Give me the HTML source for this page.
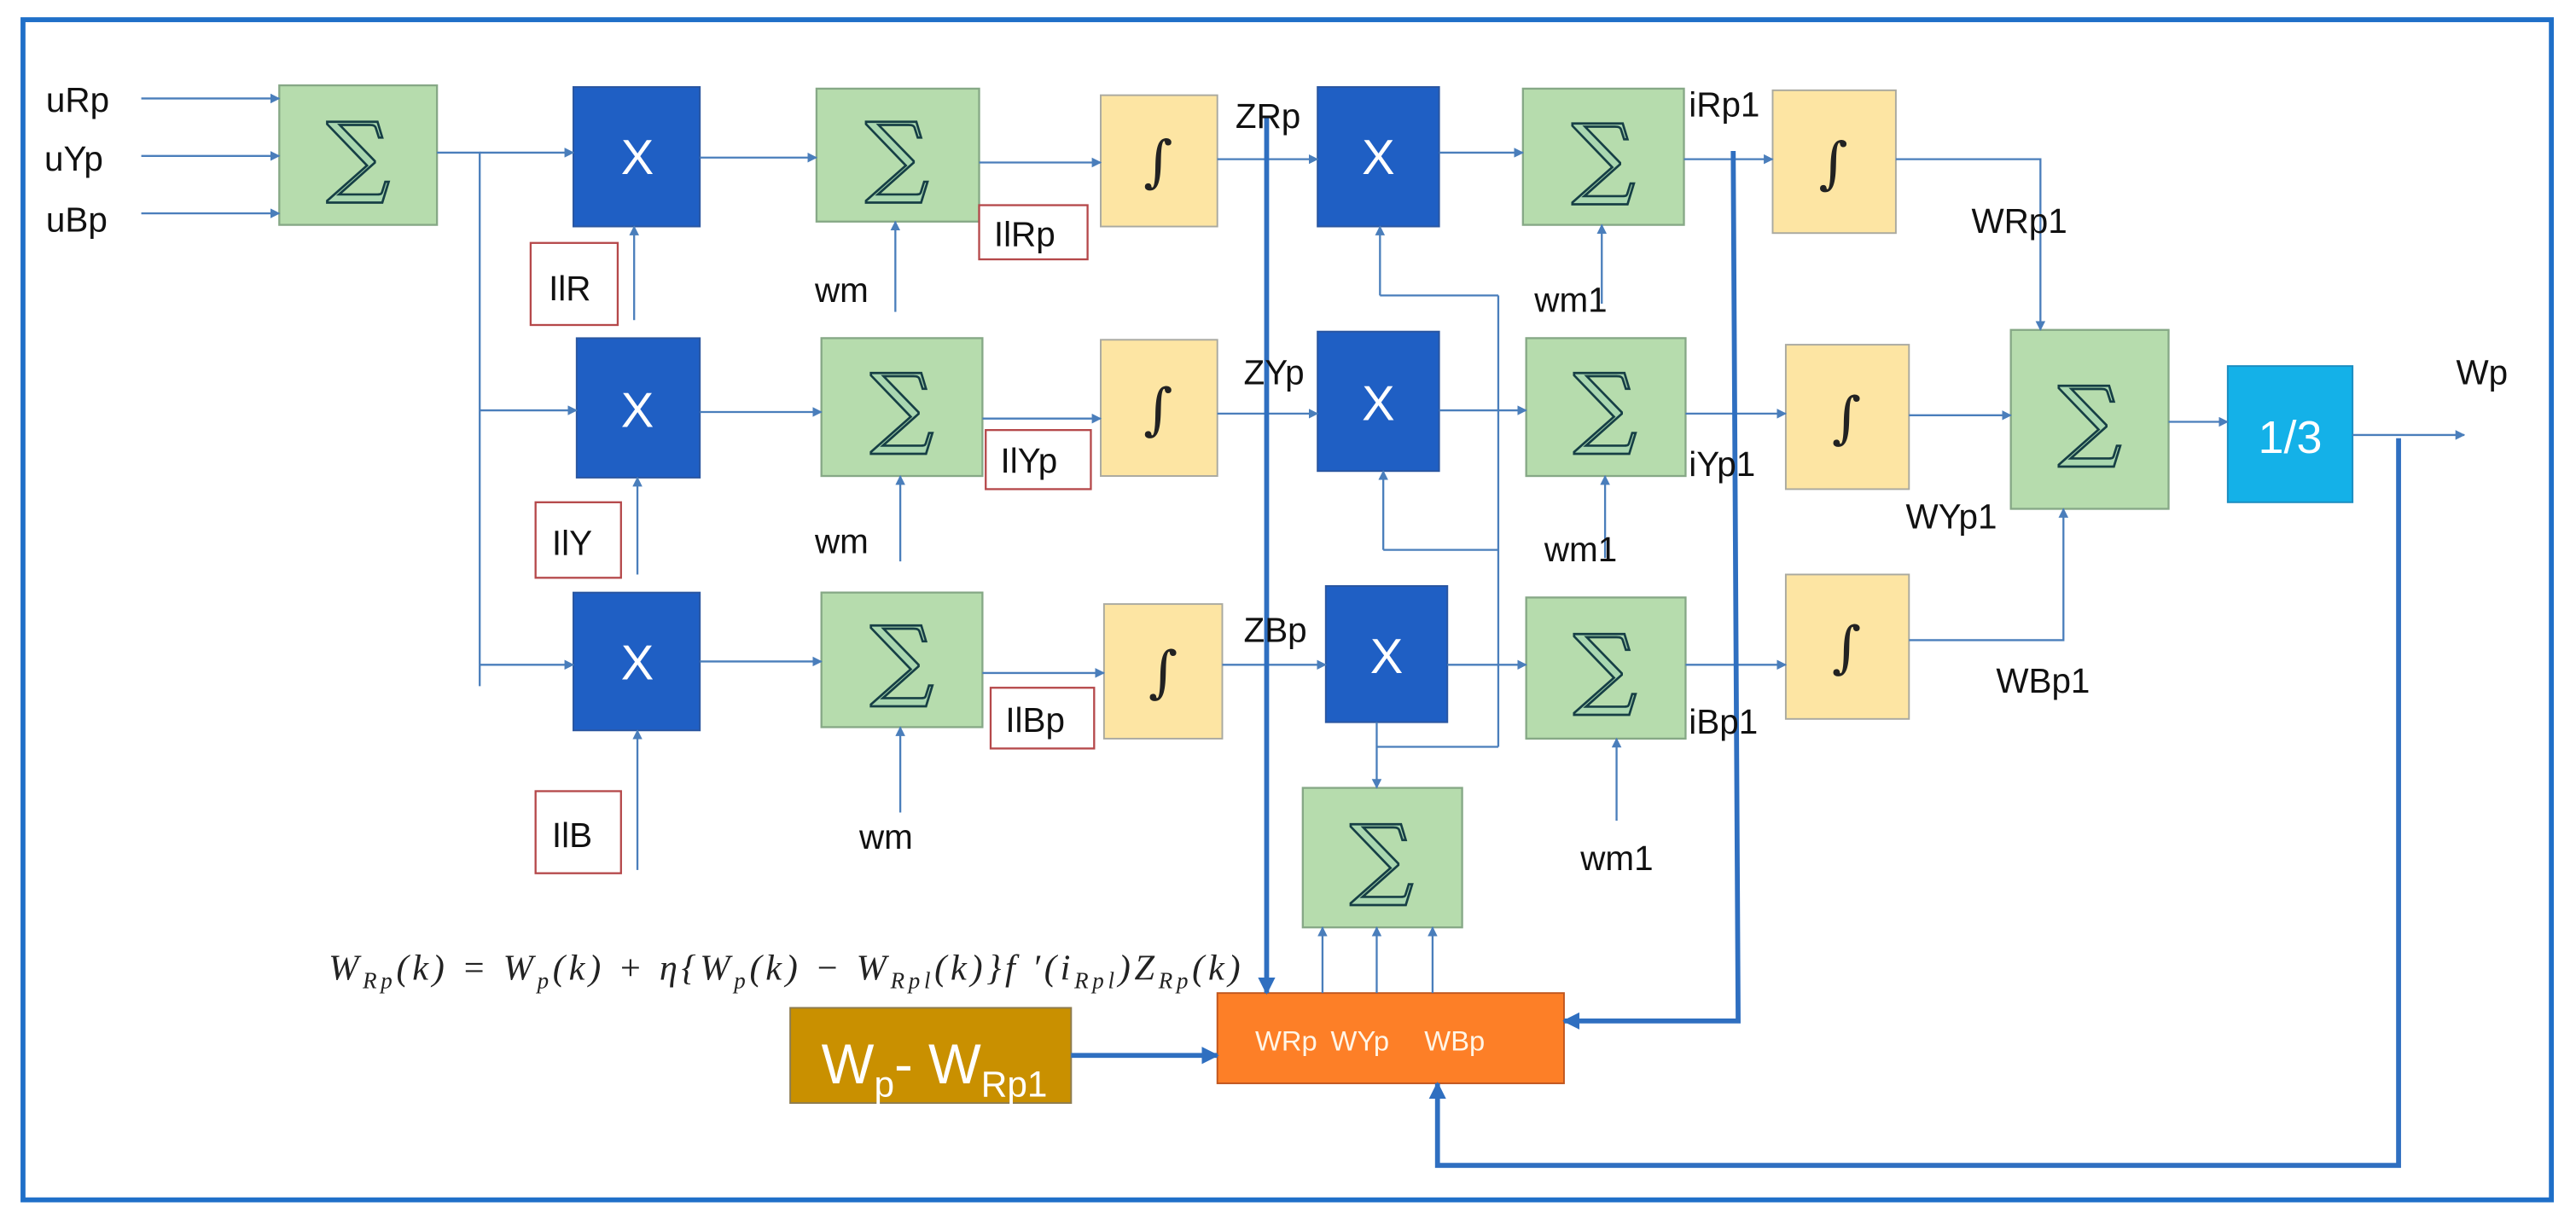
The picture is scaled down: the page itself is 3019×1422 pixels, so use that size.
<!DOCTYPE html>
<html><head><meta charset="utf-8"><style>html,body{margin:0;padding:0;background:#fff}svg{display:block}</style></head>
<body>
<svg width="3019" height="1422" viewBox="0 0 1568 739" preserveAspectRatio="none" xmlns="http://www.w3.org/2000/svg" font-family="Liberation Sans, sans-serif">
<defs>
<marker id="a" viewBox="0 0 10 10" refX="9" refY="5" markerWidth="5" markerHeight="5" orient="auto"><path d="M0,0L10,5L0,10z" fill="#4a7ebb"/></marker>
<marker id="b" viewBox="0 0 10 10" refX="9" refY="5" markerWidth="3.5" markerHeight="3.5" orient="auto"><path d="M0,0L10,5L0,10z" fill="#2f6fc0"/></marker>
</defs>
<rect x="14" y="12" width="1539" height="719" fill="#fff" stroke="#1f6fc8" stroke-width="3"/>
<g fill="#b6dcad" stroke="#86a886" stroke-width="1.2">
<rect x="170" y="52" width="96" height="85"/>
<rect x="497" y="54" width="99" height="81"/>
<rect x="500" y="206" width="98" height="84"/>
<rect x="500" y="361" width="98" height="82"/>
<rect x="927" y="54" width="98" height="83"/>
<rect x="929" y="206" width="97" height="84"/>
<rect x="929" y="364" width="97" height="86"/>
<rect x="1224" y="201" width="96" height="109"/>
<rect x="793" y="480" width="97" height="85"/>
</g>
<g fill="#1f5fc4" stroke="#2a56a0">
<rect x="349" y="53" width="77" height="85"/>
<rect x="351" y="206" width="75" height="85"/>
<rect x="349" y="361" width="77" height="84"/>
<rect x="802" y="53" width="74" height="85"/>
<rect x="802" y="202" width="74" height="85"/>
<rect x="807" y="357" width="74" height="83"/>
</g>
<g fill="#fde5a3" stroke="#a9a9a0">
<rect x="670" y="58" width="71" height="80"/>
<rect x="670" y="207" width="71" height="83"/>
<rect x="672" y="368" width="72" height="82"/>
<rect x="1079" y="55" width="75" height="87"/>
<rect x="1087" y="210" width="75" height="88"/>
<rect x="1087" y="350" width="75" height="88"/>
</g>
<g fill="#fff" stroke="#b5484a" stroke-width="1.2">
<rect x="596" y="125" width="66" height="33"/>
<rect x="600" y="262" width="64" height="36"/>
<rect x="603" y="419" width="63" height="37"/>
<rect x="323" y="148" width="53" height="50"/>
<rect x="326" y="306" width="52" height="46"/>
<rect x="326" y="482" width="52" height="50"/>
</g>
<rect x="1356" y="223" width="76" height="83" fill="#14b1e8" stroke="#1b8cc0"/>
<rect x="741" y="605" width="211" height="55" fill="#fd7f27" stroke="#c0561e"/>
<rect x="481" y="614" width="171" height="58" fill="#c99000" stroke="#8d7c50"/>
<!-- thin connectors -->
<g stroke="#4a7ebb" stroke-width="1.2" fill="none">
<path d="M266 93H292V418"/>
<path d="M912 180V455M912 180H840M912 335H842M912 455H838"/>
</g>
<g stroke="#4a7ebb" stroke-width="1.2" fill="none" marker-end="url(#a)">
<path d="M86 60H170"/><path d="M86 95H170"/><path d="M86 130H170"/>
<path d="M292 93H349"/><path d="M292 250H351"/><path d="M292 405H349"/>
<path d="M386 195V138"/><path d="M388 350V291"/><path d="M388 530V445"/>
<path d="M426 96H497"/><path d="M426 251H500"/><path d="M426 403H500"/>
<path d="M545 190V135"/><path d="M548 342V290"/><path d="M548 495V443"/>
<path d="M596 99H670"/><path d="M598 255H670"/><path d="M598 410H672"/>
<path d="M741 97H802"/><path d="M741 252H802"/><path d="M744 405H807"/>
<path d="M840 180V138"/><path d="M842 335V287"/>
<path d="M838 440V480"/>
<path d="M876 93H927"/><path d="M876 250H929"/><path d="M881 405H929"/>
<path d="M975 185V137"/><path d="M977 340V290"/><path d="M984 500V450"/>
<path d="M1025 97H1079"/><path d="M1026 252H1087"/><path d="M1026 405H1087"/>
<path d="M1154 97H1242V201"/><path d="M1162 253H1224"/><path d="M1162 390H1256V310"/>
<path d="M1320 257H1356"/>
<path d="M1432 265H1500"/>
<path d="M805 605V565"/><path d="M838 605V565"/><path d="M872 605V565"/>
</g>
<!-- thick connectors -->
<g stroke="#2f6fc0" stroke-width="3" fill="none" marker-end="url(#b)">
<path d="M771 72V605"/>
<path d="M1055 92L1058 622H952"/>
<path d="M1460 267V710H875V660"/>
<path d="M652 643H741"/>
</g>
<!-- sigma glyphs -->
<g font-family="DejaVu Serif, serif" font-size="54" fill="#a9d7b0" stroke="#163f45" stroke-width="1.4" text-anchor="middle">
<text x="218" y="113">∑</text>
<text x="546" y="113">∑</text>
<text x="549" y="266">∑</text>
<text x="549" y="420">∑</text>
<text x="976" y="114">∑</text>
<text x="977" y="266">∑</text>
<text x="977" y="425">∑</text>
<text x="1272" y="274">∑</text>
<text x="841" y="541">∑</text>
</g>
<g font-size="30" fill="#fff" text-anchor="middle">
<text x="388" y="106">X</text><text x="388" y="260">X</text><text x="388" y="414">X</text>
<text x="839" y="106">X</text><text x="839" y="256">X</text><text x="844" y="410">X</text>
<text x="1394" y="276" font-size="28">1/3</text>
</g>
<g font-family="DejaVu Serif, serif" font-size="34" fill="#222" text-anchor="middle">
<text x="705" y="110">∫</text><text x="705" y="261">∫</text><text x="708" y="421">∫</text>
<text x="1116" y="111">∫</text><text x="1124" y="266">∫</text><text x="1124" y="406">∫</text>
</g>
<g font-size="21" fill="#111">
<text x="28" y="68">uRp</text><text x="27" y="104">uYp</text><text x="28" y="141">uBp</text>
<text x="334" y="183">IlR</text><text x="336" y="338">IlY</text><text x="336" y="516">IlB</text>
<text x="605" y="150">IlRp</text><text x="609" y="288">IlYp</text><text x="612" y="446">IlBp</text>
<text x="496" y="184">wm</text><text x="496" y="337">wm</text><text x="523" y="517">wm</text>
<text x="752" y="78">ZRp</text><text x="757" y="234">ZYp</text><text x="757" y="391">ZBp</text>
<text x="1028" y="71">iRp1</text><text x="1028" y="290">iYp1</text><text x="1028" y="447">iBp1</text>
<text x="934" y="190">wm1</text><text x="940" y="342">wm1</text><text x="962" y="530">wm1</text>
<text x="1200" y="142">WRp1</text><text x="1160" y="322">WYp1</text><text x="1215" y="422">WBp1</text>
<text x="1495" y="234">Wp</text>
</g>
<g font-size="17" fill="#fff5e6"><text x="764" y="640">WRp</text><text x="810" y="640">WYp</text><text x="867" y="640">WBp</text></g>
<text x="500" y="660" font-size="34" fill="#fff">W<tspan font-size="22" dy="8">p</tspan><tspan dy="-8">- W</tspan><tspan font-size="22" dy="8">Rp1</tspan></text>
<text x="200" y="597" font-family="Liberation Serif, serif" font-style="italic" font-size="22" fill="#222" textLength="555" lengthAdjust="spacing">W<tspan font-size="14" dy="5">Rp</tspan><tspan dy="-5">(k)  =  W</tspan><tspan font-size="14" dy="5">p</tspan><tspan dy="-5">(k) + η{W</tspan><tspan font-size="14" dy="5">p</tspan><tspan dy="-5">(k) − W</tspan><tspan font-size="14" dy="5">Rpl</tspan><tspan dy="-5">(k)}f ′(i</tspan><tspan font-size="14" dy="5">Rpl</tspan><tspan dy="-5">)Z</tspan><tspan font-size="14" dy="5">Rp</tspan><tspan dy="-5">(k)</tspan></text>
</svg>
</body></html>
